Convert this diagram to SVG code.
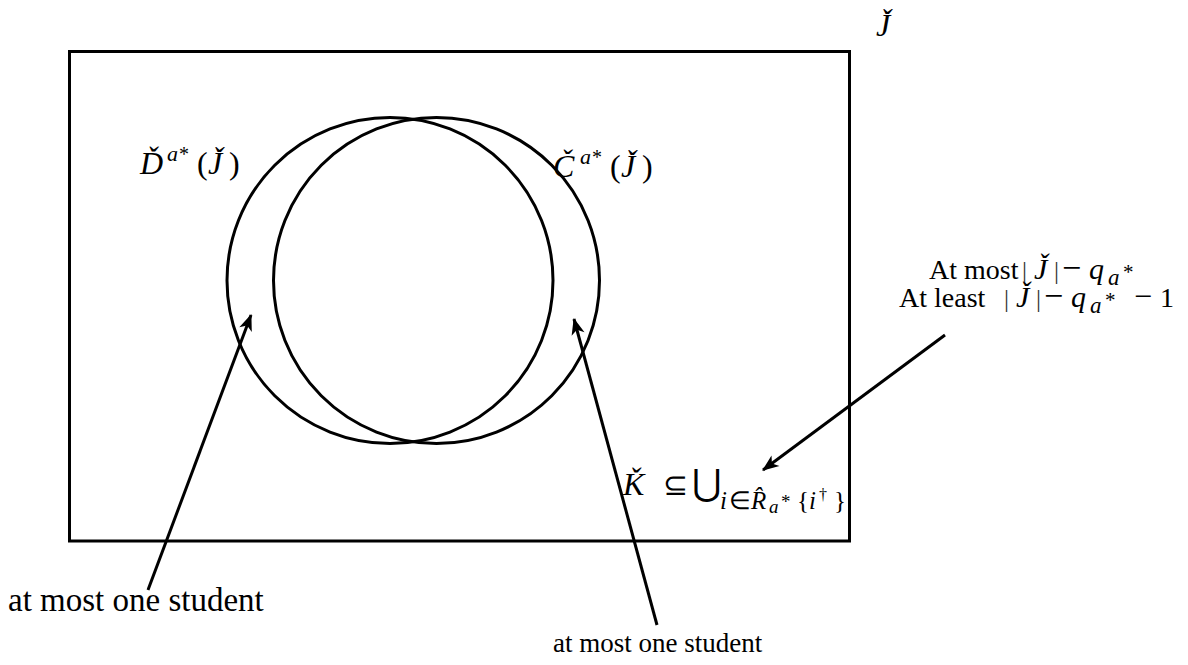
<svg xmlns="http://www.w3.org/2000/svg" width="1188" height="665" viewBox="0 0 1188 665">
<style>
.ln{fill:none;stroke:#000;stroke-width:3}
text{font-family:"Liberation Serif","Times New Roman",serif;fill:#000}
.t{font-size:28px}
.m{font-size:32px}
.i{font-style:italic}
.bar{fill:#333;font-size:25px}
</style>
<defs>
<marker id="ah" markerUnits="userSpaceOnUse" markerWidth="20" markerHeight="20" viewBox="-16 -8 18 16" refX="0" refY="0" orient="auto">
<path d="M1,0 L-14,-6 L-10,0 L-14,6 Z" fill="#000"/>
</marker>
</defs>
<g id="frame"><rect class="ln" x="69.5" y="51.5" width="780" height="489.5"/></g>
<g id="setD"><circle class="ln" cx="390" cy="280.5" r="163"/></g>
<g id="setC"><circle class="ln" cx="436.5" cy="280.5" r="163"/></g>
<g id="labelJ"><text class="m i" x="876" y="36">J̌</text></g>
<g id="labelD"><text class="m" y="174"><tspan x="140" class="i">Ď</tspan><tspan x="167" dy="-13" class="i" font-size="22">a</tspan><tspan x="179" font-size="20">*</tspan><tspan x="197" dy="13">(</tspan><tspan x="208" class="i">J̌</tspan><tspan x="229">)</tspan></text></g>
<g id="labelC"><text class="m" y="177"><tspan x="553" class="i">Č</tspan><tspan x="580" dy="-13" class="i" font-size="22">a</tspan><tspan x="592" font-size="20">*</tspan><tspan x="610" dy="13">(</tspan><tspan x="621" class="i">J̌</tspan><tspan x="642">)</tspan></text></g>
<g id="labelK"><text class="m" y="495"><tspan x="623" class="i">Ǩ</tspan><tspan x="663" font-size="30">⊆</tspan><tspan x="692" font-size="36">⋃</tspan><tspan x="720" dy="14" class="i" font-size="25">i</tspan><tspan x="729" font-size="25">∈</tspan><tspan x="751" class="i" font-size="25">R̂</tspan><tspan x="769" dy="4" class="i" font-size="19">a</tspan><tspan x="781" dy="-5" font-size="19">*</tspan><tspan x="797" dy="1" font-size="25">{</tspan><tspan x="809" class="i" font-size="25">i</tspan><tspan x="819" dy="-9" font-size="16">†</tspan><tspan x="834" dy="9" font-size="25">}</tspan></text></g>
<g id="bound">
<text class="t" y="279"><tspan x="929">At most</tspan><tspan x="1022" class="bar">|</tspan><tspan x="1034" class="i" font-size="30">J̌</tspan><tspan x="1054" class="bar">|</tspan><tspan x="1062" font-size="34">−</tspan><tspan x="1089" class="i" font-size="30">q</tspan><tspan x="1108" dy="6" class="i" font-size="23">a</tspan><tspan x="1123" dy="-6" font-size="21">*</tspan></text>
<text class="t" y="307"><tspan x="899">At least</tspan><tspan x="1004" class="bar">|</tspan><tspan x="1016" class="i" font-size="30">J̌</tspan><tspan x="1036" class="bar">|</tspan><tspan x="1044" font-size="34">−</tspan><tspan x="1071" class="i" font-size="30">q</tspan><tspan x="1090" dy="6" class="i" font-size="23">a</tspan><tspan x="1105" dy="-6" font-size="21">*</tspan><tspan x="1134" font-size="32">−</tspan><tspan x="1160">1</tspan></text>
</g>
<g id="note1"><text x="8" y="611" font-size="33">at most one student</text></g>
<g id="note2"><text x="553" y="652" font-size="27">at most one student</text></g>
<g id="connectors">
<line class="ln" x1="148" y1="590" x2="251" y2="315" marker-end="url(#ah)"/>
<line class="ln" x1="657" y1="625" x2="574" y2="319" marker-end="url(#ah)"/>
<line class="ln" x1="945" y1="335" x2="763" y2="470" marker-end="url(#ah)"/>
</g>
</svg>
